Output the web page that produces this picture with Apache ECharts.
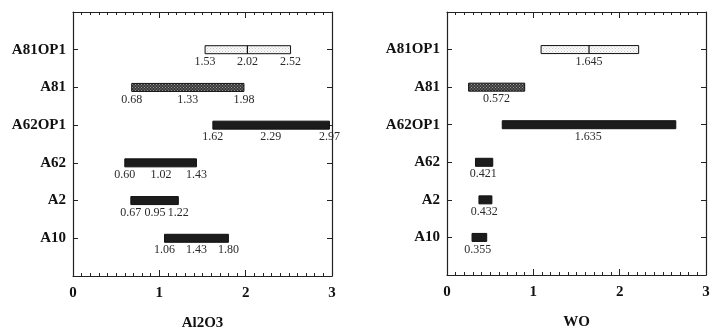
<!DOCTYPE html>
<html>
<head>
<meta charset="utf-8">
<script src="https://cdn.jsdelivr.net/npm/echarts@6/dist/echarts.min.js"></script>
<style>
  html, body { margin: 0; padding: 0; background: #fff; }
  #chart { width: 712px; height: 330px; }
</style>
</head>
<body>
<div id="chart"></div>
<script>
// categories, bottom to top (y = 1..6)
const categories = ['A10', 'A2', 'A62', 'A62OP1', 'A81', 'A81OP1'];

// Al2O3 panel: low / mid / high
const al2o3Low  = [1.06, 0.67, 0.60, 1.62, 0.68, 1.53];
const al2o3Mid  = [1.43, 0.95, 1.02, 2.29, 1.33, 2.02];
const al2o3High = [1.80, 1.22, 1.43, 2.97, 1.98, 2.52];

// WO panel: low / mid / high
const woLow  = [0.29, 0.37, 0.33, 0.64, 0.25, 1.09];
const woMid  = [0.355, 0.432, 0.421, 1.635, 0.572, 1.645];
const woHigh = [0.46, 0.52, 0.53, 2.65, 0.90, 2.22];

const xTicks = [0, 1, 2, 3];

const makePattern = (base, dot, size) => {
  const c = document.createElement('canvas');
  c.width = size; c.height = size;
  const ctx = c.getContext('2d');
  ctx.fillStyle = base;
  ctx.fillRect(0, 0, size, size);
  ctx.fillStyle = dot;
  ctx.fillRect(0, 0, 1, 1);
  ctx.fillRect(size / 2, size / 2, 1, 1);
  return { image: c, repeat: 'repeat' };
};

const hatchFill = makePattern('#3a3a3a', '#9a9a9a', 3);
const lightFill = makePattern('#fbfbfb', '#c8c8c8', 3);

const fillFor = (name) => {
  if (name === 'A81OP1') return lightFill;
  if (name === 'A81') return hatchFill;
  return '#1c1c1c';
};

const serif = '"Liberation Serif", "DejaVu Serif", serif';

const buildRows = (low, mid, high) =>
  categories.map((c, i) => [i + 1, low[i], mid[i], high[i]]);

const makeRender = (labelMode) => (params, api) => {
  const y = api.value(0);
  const lo = api.value(1);
  const md = api.value(2);
  const hi = api.value(3);
  const name = categories[y - 1];
  const p0 = api.coord([lo, y]);
  const p1 = api.coord([hi, y]);
  const pm = api.coord([md, y]);
  const h = 8;
  const children = [{
    type: 'rect',
    shape: { x: p0[0], y: p0[1] - h / 2, width: p1[0] - p0[0], height: h },
    style: { fill: fillFor(name), stroke: '#111', lineWidth: 1 }
  }];
  if (name === 'A81OP1') {
    children.push({
      type: 'line',
      shape: { x1: pm[0], y1: pm[1] - h / 2, x2: pm[0], y2: pm[1] + h / 2 },
      style: { stroke: '#111', lineWidth: 1.2 }
    });
  }
  const txt = (x, s) => ({
    type: 'text',
    style: {
      x: x, y: p0[1] + h / 2 + 2, text: s,
      align: 'center', verticalAlign: 'top',
      font: '12px ' + serif, fill: '#2a2a2a'
    }
  });
  if (labelMode === 'three') {
    children.push(txt(p0[0], lo.toFixed(2)));
    children.push(txt(pm[0], md.toFixed(2)));
    children.push(txt(p1[0], hi.toFixed(2)));
  } else {
    children.push(txt(pm[0], md.toFixed(3)));
  }
  return { type: 'group', children: children };
};

const axisLine = { show: true, onZero: false, lineStyle: { color: '#222', width: 1.2 } };

const xBottom = (gridIndex, name) => ({
  type: 'value', gridIndex: gridIndex, position: 'bottom',
  min: 0, max: 3, interval: 1,
  axisLine: axisLine,
  axisTick: { show: true, inside: true, length: 6, lineStyle: { color: '#222' } },
  minorTick: { show: true, splitNumber: 10, length: 3, lineStyle: { color: '#222' } },
  splitLine: { show: false },
  axisLabel: {
    margin: 10, color: '#111', fontFamily: serif, fontWeight: 'bold', fontSize: 15,
    customValues: xTicks
  },
  name: name, nameLocation: 'middle', nameGap: 40,
  nameTextStyle: { color: '#111', fontFamily: serif, fontWeight: 'bold', fontSize: 15 }
});

const xTop = (gridIndex) => ({
  type: 'value', gridIndex: gridIndex, position: 'top',
  min: 0, max: 3, interval: 1,
  axisLine: axisLine,
  axisTick: { show: true, inside: true, length: 6, lineStyle: { color: '#222' } },
  minorTick: { show: true, splitNumber: 10, length: 3, lineStyle: { color: '#222' } },
  splitLine: { show: false },
  axisLabel: { show: false }
});

const yLeft = (gridIndex) => ({
  type: 'value', gridIndex: gridIndex, position: 'left',
  min: 0, max: 7, interval: 1,
  axisLine: axisLine,
  axisTick: { show: true, inside: true, length: 5, customValues: [1, 2, 3, 4, 5, 6], lineStyle: { color: '#222' } },
  splitLine: { show: false },
  axisLabel: {
    customValues: [1, 2, 3, 4, 5, 6],
    formatter: (v) => categories[v - 1] || '',
    margin: 7, color: '#111', fontFamily: serif, fontWeight: 'bold', fontSize: 15
  }
});

const yRight = (gridIndex) => ({
  type: 'value', gridIndex: gridIndex, position: 'right',
  min: 0, max: 7, interval: 1,
  axisLine: axisLine,
  axisTick: { show: true, inside: true, length: 5, customValues: [1, 2, 3, 4, 5, 6], lineStyle: { color: '#222' } },
  splitLine: { show: false },
  axisLabel: { show: false }
});

const chart = echarts.init(document.getElementById('chart'));
chart.setOption({
  animation: false,
  backgroundColor: '#fff',
  grid: [
    { left: 73, right: 380, top: 12, bottom: 54, outerBoundsMode: 'none' },
    { left: 447, right: 6, top: 12, bottom: 55, outerBoundsMode: 'none' }
  ],
  xAxis: [xBottom(0, 'Al2O3'), xTop(0), xBottom(1, 'WO'), xTop(1)],
  yAxis: [yLeft(0), yRight(0), yLeft(1), yRight(1)],
  series: [
    {
      type: 'custom', name: 'Al2O3', xAxisIndex: 0, yAxisIndex: 0,
      renderItem: makeRender('three'),
      encode: { x: [1, 3], y: 0 },
      data: buildRows(al2o3Low, al2o3Mid, al2o3High)
    },
    {
      type: 'custom', name: 'WO', xAxisIndex: 2, yAxisIndex: 2,
      renderItem: makeRender('one'),
      encode: { x: [1, 3], y: 0 },
      data: buildRows(woLow, woMid, woHigh)
    }
  ]
});
</script>
</body>
</html>
